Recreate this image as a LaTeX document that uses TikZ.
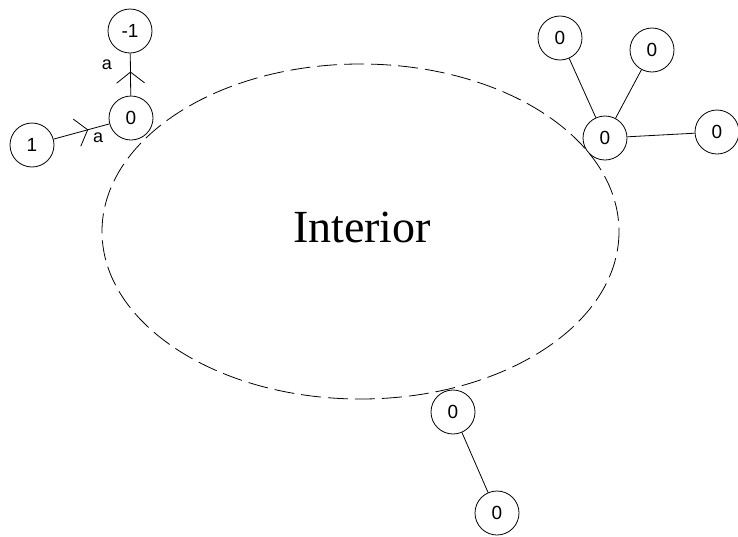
\documentclass[tikz,border=0pt]{standalone}
\usepackage{fontspec}
\setmainfont{Liberation Serif}
\newfontfamily\digitfont{Liberation Sans}
\usetikzlibrary{arrows.meta,decorations.markings}

\tikzset{
  vertex/.style={draw, circle, minimum size=44pt, inner sep=0pt,
    font=\digitfont\fontsize{19}{19}\selectfont},
  edgelabel/.style={font=\digitfont\fontsize{18}{18}\selectfont, inner sep=1pt},
  midbarb/.style={decoration={markings,
      mark=at position #1 with {\arrow{Straight Barb[length=11pt,width=28pt]}}},
    postaction=decorate}
}

\begin{document}
\begin{tikzpicture}[x=1pt, y=-1pt, line width=0.8pt]
      \useasboundingbox (0,0) rectangle (738,536);
      % the region
      \draw[dash pattern=on 20pt off 7pt] (360.5,231.5) ellipse (258.5 and 167.5);
      \node at (362,227) {\fontsize{46}{46}\selectfont Interior};
      % upper left
      \node[vertex] (m1) at (130,31) {-1};
      \node[vertex] (a0) at (131,118) {0};
      \node[vertex] (p1) at (32,145) {1};
      \draw[midbarb=0.57] (a0) -- node[edgelabel, pos=0.72, left=17pt] {a} (m1);
      \draw[midbarb=0.62] (p1) -- node[edgelabel, pos=0.8, below=4pt] {a} (a0);
      % upper right
      \node[vertex] (c0) at (605,138) {0};
      \node[vertex] (c1) at (560,38) {0};
      \node[vertex] (c2) at (652,50) {0};
      \node[vertex] (c3) at (717,132) {0};
      \draw (c0) -- (c1);
      \draw (c0) -- (c2);
      \draw (c0) -- (c3);
      % bottom
      \node[vertex] (b0) at (453,412) {0};
      \node[vertex] (b1) at (497,513) {0};
      \draw (b0) -- (b1);
    \end{tikzpicture}
\end{document}
